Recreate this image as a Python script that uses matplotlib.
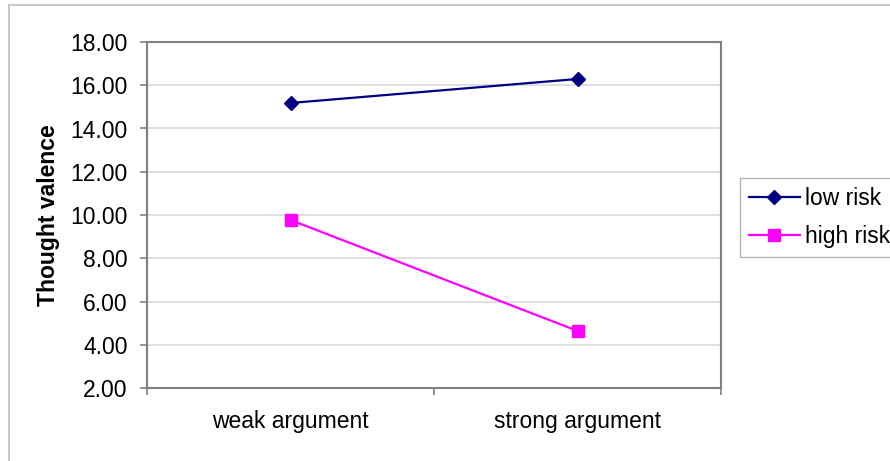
import matplotlib
matplotlib.use("Agg")
import matplotlib.pyplot as plt
from matplotlib.lines import Line2D

plt.rcParams["font.family"] = ["Liberation Sans", "DejaVu Sans"]

categories = ["weak argument", "strong argument"]
low_risk = [15.18, 16.29]
high_risk = [9.77, 4.64]
y_ticks = [2, 4, 6, 8, 10, 12, 14, 16, 18]

W, H = 890, 461
fig = plt.figure(figsize=(W / 100, H / 100), dpi=100)
ax = fig.add_axes([147 / W, 1 - 388 / H, (721 - 147) / W, (388 - 42) / H])

x = range(len(categories))
ax.plot(x, low_risk, color="#000080", lw=1.6, marker="D", ms=7.5, label="low risk", zorder=3)
ax.plot(x, high_risk, color="#ff00ff", lw=1.6, marker="s", ms=8.5, label="high risk", zorder=3)

ax.set_xlim(-0.5, 1.5)
ax.set_ylim(2, 18)
ax.set_yticks(y_ticks)
ax.set_yticklabels([f"{v:.2f}" for v in y_ticks])
ax.set_xticks(list(x))
ax.set_xticklabels(categories)
ax.set_xticks([-0.5, 0.5, 1.5], minor=True)

ax.tick_params(axis="x", which="major", length=0, pad=16, labelsize=16.5)
ax.tick_params(axis="x", which="minor", length=5, color="#808080", width=1.2, direction="out")
ax.tick_params(axis="y", length=5, color="#808080", width=1.2, pad=9, labelsize=16.5)

ax.grid(axis="y", color="#d9d9d9", lw=1.2)
ax.set_axisbelow(True)
for s in ax.spines.values():
    s.set_color("#808080")
    s.set_linewidth(1.5)

ax.set_ylabel("Thought valence", fontsize=16.5, fontweight="bold")
ax.yaxis.set_label_coords(-0.152, 0.5)

leg = fig.legend(loc="upper left", bbox_to_anchor=(740 / W, 1 - 178 / H),
                 frameon=True, fancybox=False, fontsize=16.5, handlelength=2.2,
                 handletextpad=0.25, borderpad=0.4, labelspacing=0.65,
                 borderaxespad=0)
leg.get_frame().set_edgecolor("#a0a0a0")
leg.get_frame().set_linewidth(1.0)

# chart area border (top and left visible)
fig.add_artist(Line2D([9 / W, 9 / W], [0, 1 - 5 / H], color="#c8c8c8", lw=1.5))
fig.add_artist(Line2D([9 / W, 1], [1 - 5 / H, 1 - 5 / H], color="#c8c8c8", lw=1.5))

fig.savefig("out.png", dpi=100)
